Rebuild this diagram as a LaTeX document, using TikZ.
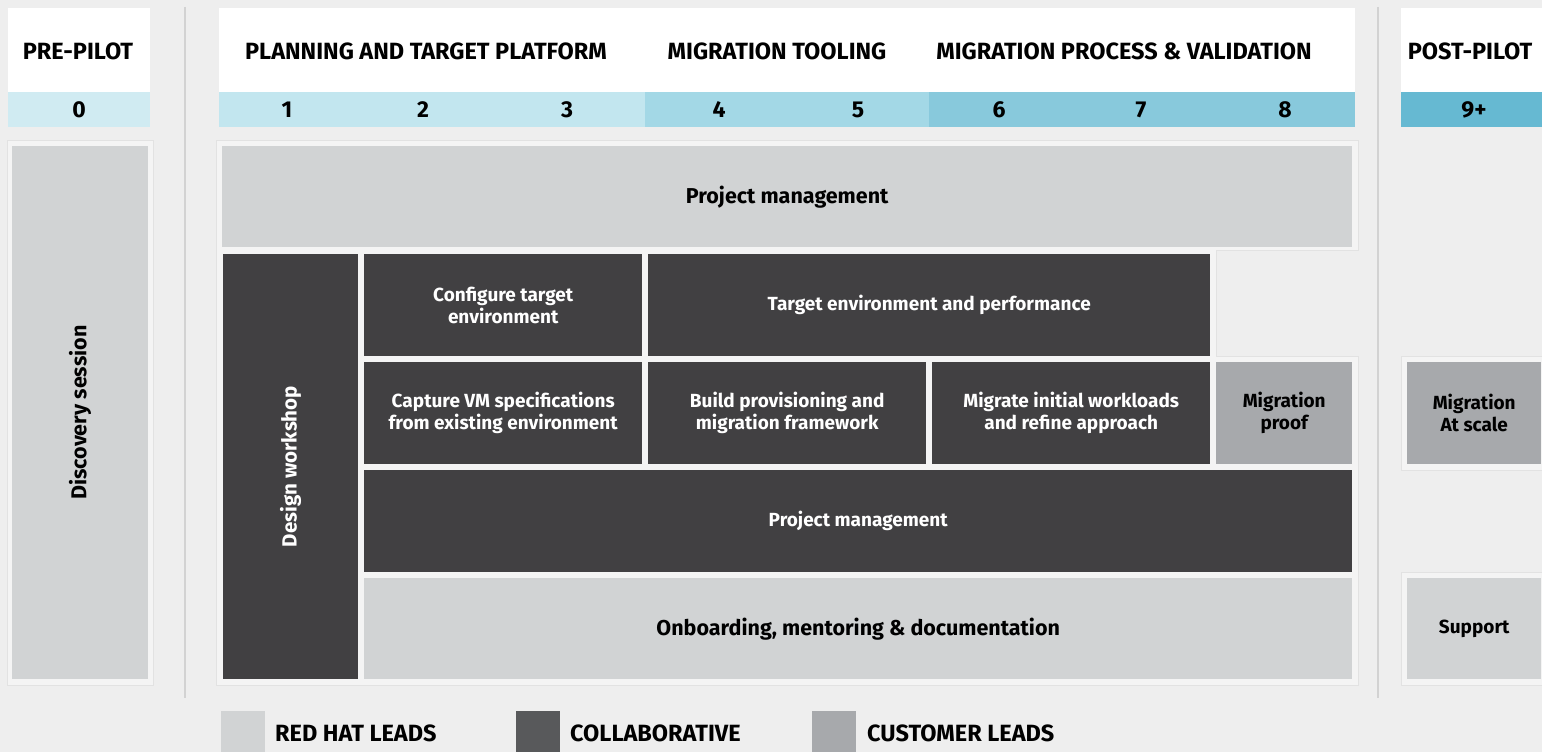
\documentclass[tikz,border=0pt]{standalone}
\usepackage{fontspec}
\setmainfont{Fira Sans}
\definecolor{bg}{HTML}{EEEEEE}
\definecolor{panel}{HTML}{F4F4F4}
\definecolor{panelline}{HTML}{E2E2E2}
\definecolor{sepline}{HTML}{D2D2D2}
\definecolor{rhgray}{HTML}{D1D3D4}
\definecolor{cdark}{HTML}{414042}
\definecolor{cugray}{HTML}{A7A9AC}
\definecolor{legdark}{HTML}{58595B}
\definecolor{bluez}{HTML}{D0EBF2}
\definecolor{bluea}{HTML}{C2E6EF}
\definecolor{blueb}{HTML}{A3D8E6}
\definecolor{bluec}{HTML}{88C9DC}
\definecolor{blued}{HTML}{66B9D2}
\begin{document}
\begin{tikzpicture}[x=1pt,y=-1pt,
  blk/.style={draw=none, inner sep=0pt, anchor=north west, align=center, font=\bfseries\fontsize{19}{22}\selectfont},
  bigt/.style={font=\bfseries\fontsize{21.5}{25}\selectfont},
  rh/.style={blk, fill=rhgray, text=black},
  co/.style={blk, fill=cdark, text=white},
  cu/.style={blk, fill=cugray, text=black},
  hdr/.style={draw=none, inner sep=0pt, anchor=north west, fill=white},
  num/.style={draw=none, inner sep=0pt, anchor=north west},
  htext/.style={font=\bfseries\fontsize{23.5}{27}\selectfont, text=black},
  ntext/.style={font=\bfseries\fontsize{23}{27}\selectfont, text=black},
  legsq/.style={draw=none, inner sep=0pt, anchor=north west, minimum width=44pt, minimum height=44pt},
  legtext/.style={anchor=west, inner sep=0pt, font=\bfseries\fontsize{23.5}{27}\selectfont, text=black},
  pan/.style={fill=panel, draw=panelline, line width=1pt},
  sep/.style={draw=sepline, line width=2pt}
]
\useasboundingbox (0,0) rectangle (1542,752);
\fill[bg] (0,0) rectangle (1542,752);

% separator lines
\coordinate (s1a) at (185,7); \coordinate (s1b) at (185,698);
\coordinate (s2a) at (1378,7); \coordinate (s2b) at (1378,698);
\draw[sep] (s1a) -- (s1b);
\draw[sep] (s2a) -- (s2b);

% panels
\draw[pan] (7,140) rectangle (153,685);
\draw[pan] (216,140) -- (1358,140) -- (1358,250) -- (1216,250) -- (1216,356) -- (1358,356) -- (1358,685) -- (216,685) -- cycle;
\draw[pan] (1401,356) rectangle (1560,470);
\draw[pan] (1401,572) rectangle (1560,685);

% headers
\node[hdr, minimum width=142pt, minimum height=84pt] (hpre) at (8,8) {};
\node[htext] (tpre) at (78,51) {PRE-PILOT};
\node[num, fill=bluez, minimum width=142pt, minimum height=35pt] (npre) at (8,92) {};
\node[ntext] (n0) at (79,110) {0};

\node[hdr, minimum width=1136pt, minimum height=84pt] (hmain) at (219,8) {};
\node[htext] (tplan) at (426,51) {PLANNING AND TARGET PLATFORM};
\node[htext] (ttool) at (777,51) {MIGRATION TOOLING};
\node[htext] (tproc) at (1124,51) {MIGRATION PROCESS \& VALIDATION};
\node[num, fill=bluea, minimum width=426pt, minimum height=35pt] (sega) at (219,92) {};
\node[num, fill=blueb, minimum width=284pt, minimum height=35pt] (segb) at (645,92) {};
\node[num, fill=bluec, minimum width=426pt, minimum height=35pt] (segc) at (929,92) {};
\node[ntext] (n1) at (287,110) {1};
\node[ntext] (n2) at (423,110) {2};
\node[ntext] (n3) at (567,110) {3};
\node[ntext] (n4) at (719,110) {4};
\node[ntext] (n5) at (858,110) {5};
\node[ntext] (n6) at (999,110) {6};
\node[ntext] (n7) at (1141,110) {7};
\node[ntext] (n8) at (1285,110) {8};

\node[hdr, minimum width=150pt, minimum height=84pt] (hpost) at (1401,8) {};
\node[htext] (tpost) at (1470,51) {POST-PILOT};
\node[num, fill=blued, minimum width=150pt, minimum height=35pt] (npost) at (1401,92) {};
\node[ntext] (n9) at (1474,110) {9+};

% blocks
\node[rh, bigt, minimum width=533pt, minimum height=136pt, rotate=90, anchor=center] (disc) at (80,412.5) {Discovery session};
\node[rh, bigt, minimum width=1130pt, minimum height=101pt] (pm1) at (222,146) {Project management};
\node[co, font=\bfseries\fontsize{20.5}{24}\selectfont, minimum width=425pt, minimum height=135pt, rotate=90, anchor=center] (dw) at (290.5,466.5) {Design workshop};
\node[co, minimum width=278pt, minimum height=102pt] (cfg) at (364,254) {Configure target\\environment};
\node[co, minimum width=562pt, minimum height=102pt] (tep) at (648,254) {Target environment and performance};
\node[co, minimum width=278pt, minimum height=102pt] (cap) at (364,362) {Capture VM specifications\\from existing environment};
\node[co, minimum width=278pt, minimum height=102pt] (bld) at (648,362) {Build provisioning and\\migration framework};
\node[co, minimum width=278pt, minimum height=102pt] (mig) at (932,362) {Migrate initial workloads\\and refine approach};
\node[cu, minimum width=136pt, minimum height=102pt] (prf) at (1216,362) {Migration\\proof};
\node[co, minimum width=988pt, minimum height=102pt] (pm2) at (364,470) {Project management};
\node[rh, bigt, minimum width=988pt, minimum height=101pt] (onb) at (364,578) {Onboarding, mentoring \& documentation};
\node[cu, minimum width=134pt, minimum height=102pt] (scl) at (1407,362) {Migration\\At scale};
\node[rh, minimum width=134pt, minimum height=101pt] (sup) at (1407,578) {Support};

% legend
\node[legsq, fill=rhgray] (lrh) at (221,711) {};
\node[legtext] (lrht) at (275,733) {RED HAT LEADS};
\node[legsq, fill=legdark] (lco) at (516,711) {};
\node[legtext] (lcot) at (570,733) {COLLABORATIVE};
\node[legsq, fill=cugray] (lcu) at (812,711) {};
\node[legtext] (lcut) at (867,733) {CUSTOMER LEADS};
\end{tikzpicture}
\end{document}
